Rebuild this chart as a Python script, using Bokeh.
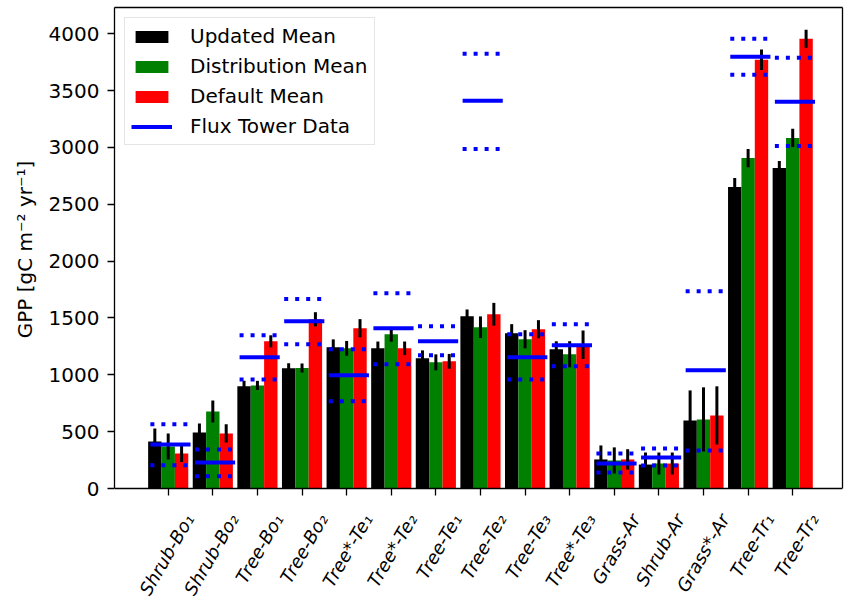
import math
import numpy as np
from bokeh.plotting import figure
from bokeh.models import FixedTicker, Legend, LegendItem, LinearAxis
from bokeh.core.properties import value
from bokeh.embed import file_html
from bokeh.resources import INLINE

# ---- data ----
sites = ["Shrub-Bo₁", "Shrub-Bo₂", "Tree-Bo₁", "Tree-Bo₂", "Tree*-Te₁", "Tree*-Te₂",
         "Tree-Te₁", "Tree-Te₂", "Tree-Te₃", "Tree*-Te₃", "Grass-Ar", "Shrub-Ar",
         "Grass*-Ar", "Tree-Tr₁", "Tree-Tr₂"]

updated_mean = [414, 493, 899, 1057, 1242, 1233, 1145, 1515, 1366, 1225, 256, 211, 599, 2652, 2819]
updated_err = [115, 80, 50, 45, 70, 60, 70, 60, 80, 70, 123, 106, 264, 80, 62]
distribution_mean = [370, 678, 907, 1060, 1233, 1357, 1110, 1419, 1313, 1181, 247, 220, 608, 2907, 3084]
distribution_err = [115, 97, 40, 40, 65, 65, 70, 95, 80, 115, 115, 97, 282, 80, 80]
default_mean = [308, 485, 1295, 1489, 1410, 1233, 1119, 1533, 1401, 1265, 256, 220, 643, 3771, 3956]
default_err = [75, 80, 53, 62, 80, 60, 65, 100, 80, 125, 90, 97, 256, 90, 80]
flux_mean = [388, 229, 1154, 1471, 996, 1410, 1295, 3410, 1154, 1260, 220, 273, 1040, 3797, 3401]
flux_upper = [566, 344, 1348, 1668, 1225, 1718, 1427, 3824, 1357, 1445, 308, 352, 1736, 3956, 3789]
flux_lower = [205, 108, 960, 1269, 767, 1093, 1172, 2987, 960, 1075, 141, 203, 335, 3639, 3013]
y_ticks = [0, 500, 1000, 1500, 2000, 2500, 3000, 3500, 4000]
y_label = "GPP [gC m⁻² yr⁻¹]"

FONT = "DejaVu Sans"
BAR_W = 0.3
Y_TOP = 4231
# the frame continues below y=0 so that the rotated site names (drawn as text) stay visible
Y_BOTTOM = -976
# the axis label is centred on the whole (extended) frame; non-breaking padding at its
# start lifts the visible words to the middle of the 0..4231 part of the axis
LABEL_PAD = "\u00a0" * 17

idx = np.arange(len(sites), dtype=float)

p = figure(width=846, height=599, x_range=(-1.204, 15.116), y_range=(Y_BOTTOM, Y_TOP),
           output_backend="svg", toolbar_location=None,
           min_border_left=114, min_border_right=4, min_border_top=7, min_border_bottom=0)
p.grid.visible = False
p.outline_line_color = None
p.background_fill_color = "white"
p.border_fill_color = "white"

series = [
    ("Updated Mean", updated_mean, updated_err, "black", -BAR_W),
    ("Distribution Mean", distribution_mean, distribution_err, "green", 0.0),
    ("Default Mean", default_mean, default_err, "red", BAR_W),
]
items = []
for name, vals, errs, col, off in series:
    v = np.array(vals, dtype=float)
    e = np.array(errs, dtype=float)
    r = p.vbar(x=idx + off, top=v, bottom=0, width=BAR_W, fill_color=col, line_color=None)
    p.segment(x0=idx + off, x1=idx + off, y0=v - e, y1=v + e, line_color="black", line_width=3)
    items.append(LegendItem(label=name, renderers=[r]))

fm = np.array(flux_mean, dtype=float)
solid = p.segment(x0=idx - 0.4, x1=idx + 0.5, y0=fm, y1=fm, line_color="blue", line_width=4,
                  line_cap="butt")
for arr in (flux_upper, flux_lower):
    a = np.array(arr, dtype=float)
    p.segment(x0=idx - 0.4, x1=idx + 0.5, y0=a, y1=a, line_color="blue", line_width=4,
              line_dash="4 7", line_cap="butt")
items.append(LegendItem(label="Flux Tower Data", renderers=[solid]))

# rotated, italic site names hanging below the x axis, centred on their group
p.text(x=idx, y=np.zeros(len(sites)), text=sites, angle=math.pi / 3,
       text_align="right", text_baseline="middle", x_offset=21, y_offset=27,
       text_font=value(FONT), text_font_size="18px", text_font_style="italic",
       text_color="black")

legend = Legend(items=items, location="top_left")
legend.margin = 10
legend.padding = 6
legend.spacing = 6
legend.glyph_width = 41
legend.glyph_height = 15
legend.label_standoff = 18
legend.label_text_font = FONT
legend.label_text_font_size = "20px"
legend.label_text_color = "black"
legend.border_line_color = "#cccccc"
legend.border_line_width = 1
legend.background_fill_color = "white"
legend.background_fill_alpha = 0.8
p.add_layout(legend)

# y axis (left spine stops at 0)
ya = p.yaxis[0]
ya.ticker = FixedTicker(ticks=y_ticks)
ya.bounds = (0, Y_TOP)
ya.axis_label = LABEL_PAD + y_label
ya.axis_label_text_font = FONT
ya.axis_label_text_font_size = "20px"
ya.axis_label_text_font_style = "normal"
ya.axis_label_text_color = "black"
ya.axis_label_standoff = 9
ya.major_label_text_font = FONT
ya.major_label_text_font_size = "20px"
ya.major_label_text_color = "black"
ya.major_tick_out = 7
ya.major_tick_in = 0
ya.major_tick_line_width = 1.3
ya.major_label_standoff = 8
ya.minor_tick_line_color = None
ya.axis_line_color = "black"
ya.axis_line_width = 1.3

# x axis drawn at y = 0 (bottom spine + tick marks)
xa = p.xaxis[0]
xa.fixed_location = 0
xa.ticker = FixedTicker(ticks=[float(i) for i in range(len(sites))])
xa.major_label_overrides = {float(i): "" for i in range(len(sites))}
xa.major_label_text_font_size = "0px"
xa.major_label_standoff = 0
xa.major_tick_line_color = "black"
xa.major_tick_line_width = 1.3
xa.major_tick_out = 7
xa.major_tick_in = 0
xa.minor_tick_line_color = None
xa.axis_line_color = "black"
xa.axis_line_width = 1.3


def spine(**kw):
    return LinearAxis(ticker=FixedTicker(ticks=[]), major_label_text_font_size="0px",
                      major_label_standoff=0, major_tick_line_color=None,
                      minor_tick_line_color=None, axis_line_color="black",
                      axis_line_width=1.3, **kw)


p.add_layout(spine(), "above")
p.add_layout(spine(bounds=(0, Y_TOP)), "right")

open("out.html", "w").write(file_html(p, INLINE))
